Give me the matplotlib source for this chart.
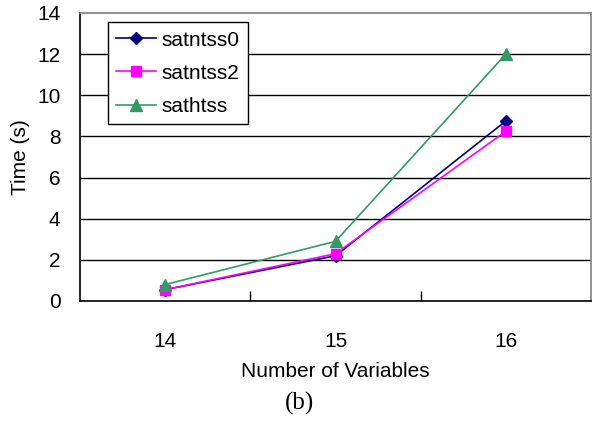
import matplotlib.pyplot as plt
from matplotlib.ticker import FixedLocator

variables = ['14', '15', '16']
satntss0 = [0.55, 2.2, 8.75]
satntss2 = [0.55, 2.3, 8.25]
sathtss = [0.8, 2.9, 12.0]

plt.rcParams['font.family'] = ['Liberation Sans', 'DejaVu Sans']

fig = plt.figure(figsize=(5.93, 4.22), dpi=100)
ax = fig.add_axes([80 / 593, 1 - 301 / 422, 511 / 593, 288 / 422])

x = list(range(len(variables)))
ax.plot(x, satntss0, color='#000080', marker='D', markersize=6, lw=1.2, label='satntss0')
ax.plot(x, satntss2, color='#FF00FF', marker='s', markersize=6.5, lw=1.2, label='satntss2')
ax.plot(x, sathtss, color='#339966', marker='^', markersize=8, lw=1.2, label='sathtss')

ax.set_xlim(-0.5, len(variables) - 0.5)
ax.set_ylim(0, 14)
ax.set_yticks(range(0, 15, 2))
ax.set_xticks(x)
ax.set_xticklabels(variables)
ax.xaxis.set_minor_locator(FixedLocator([0.5, 1.5]))
ax.tick_params(axis='x', which='major', length=0, pad=22, labelsize=15)
ax.tick_params(axis='x', which='minor', direction='in', length=7, width=1, color='black')
ax.tick_params(axis='y', length=0, pad=14, labelsize=15)

for v in range(2, 14, 2):
    ax.axhline(v, color='black', lw=1, zorder=0)

ax.spines['left'].set_color('black')
ax.spines['bottom'].set_color('black')
ax.spines['top'].set_color('#808080')
ax.spines['right'].set_color('#808080')
for s in ax.spines.values():
    s.set_linewidth(1.2)

ax.set_ylabel('Time (s)', fontsize=15, labelpad=5)
ax.set_xlabel('Number of Variables', fontsize=15, labelpad=8)

leg = ax.legend(loc='upper left', bbox_to_anchor=(0.055, 0.968), fontsize=15,
                frameon=True, fancybox=False, edgecolor='black', framealpha=1,
                handlelength=1.9, borderpad=0.4, labelspacing=0.68, handletextpad=0.25,
                borderaxespad=0)
leg.get_frame().set_linewidth(1)

fig.text(300 / 593, 1 - 403 / 422, '(b)', ha='center', va='center', fontsize=18,
         family=['Liberation Serif', 'DejaVu Serif'])

fig.savefig('out.png', dpi=100)
